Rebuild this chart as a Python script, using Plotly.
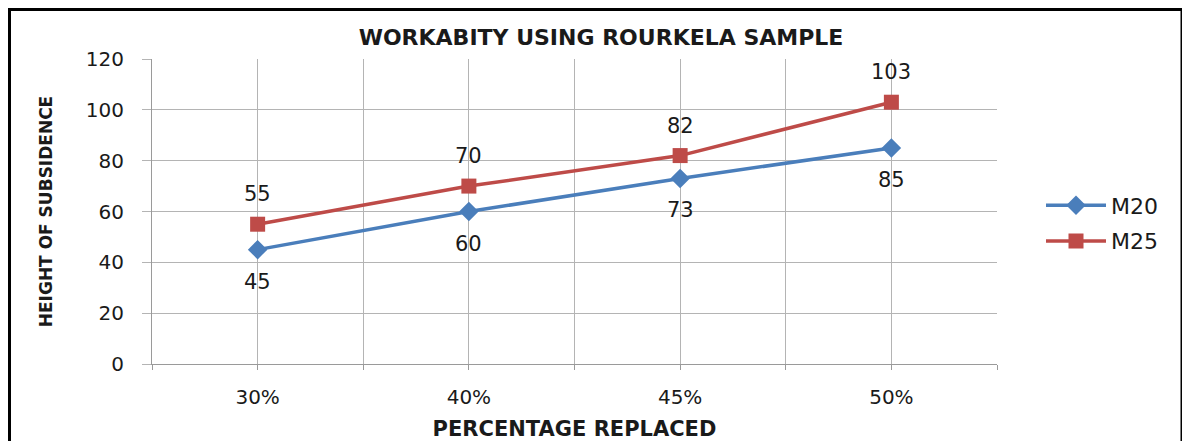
import plotly.graph_objects as go

# ---- data ----
categories = ["30%", "40%", "45%", "50%"]
m20 = [45, 60, 73, 85]
m25 = [55, 70, 82, 103]
y_ticks = [0, 20, 40, 60, 80, 100, 120]

BLUE = "#4A7EBB"
RED = "#BE4B48"
GRID = "#B4B4B4"
AXIS = "#9A9A9A"
TXT = "#1A1A1A"
FONT = "DejaVu Sans"

# page is rendered with an 8px body margin -> work in figure coordinates
W, H = 1182, 433
L, T = 144, 51
R = W - 989
B = H - 356
PW = W - L - R
PH = H - T - B

x = list(range(len(categories)))
bounds = [i - 0.5 for i in range(len(categories) + 1)]

fig = go.Figure()
fig.add_trace(go.Scatter(
    x=x, y=m20, mode="lines+markers", name="M20", legendgroup="a",
    line=dict(color=BLUE, width=3.5),
    marker=dict(symbol="diamond", size=15, color=BLUE),
))
fig.add_trace(go.Scatter(
    x=x, y=m25, mode="lines+markers", name="M25", legendgroup="b",
    line=dict(color=RED, width=3.5),
    marker=dict(symbol="square", size=15, color=RED),
))

annotations = []
for xi, v in zip(x, m20):
    annotations.append(dict(x=xi, y=v, text=str(v), showarrow=False, yshift=-32,
                            font=dict(family=FONT, size=21, color=TXT)))
for xi, v in zip(x, m25):
    annotations.append(dict(x=xi, y=v, text=str(v), showarrow=False, yshift=30,
                            font=dict(family=FONT, size=21, color=TXT)))

fig.update_layout(
    width=W, height=H,
    margin=dict(l=L, r=R, t=T, b=B, autoexpand=False),
    paper_bgcolor="white", plot_bgcolor="white",
    title=dict(text="<b>WORKABITY USING ROURKELA SAMPLE</b>",
               x=593 / W, xanchor="center", y=1 - 29 / H, yanchor="middle",
               yref="container", font=dict(family=FONT, size=22, color=TXT)),
    xaxis=dict(
        range=[bounds[0], bounds[-1]], tickmode="array", tickvals=x, ticktext=categories,
        showgrid=True, gridcolor=GRID, gridwidth=1, automargin=False,
        ticks="outside", ticklen=5, tickcolor=AXIS,
        minor=dict(tickmode="array", tickvals=bounds, showgrid=True, gridcolor=GRID,
                   ticks="outside", ticklen=5, tickcolor=AXIS),
        showline=True, linecolor=AXIS, linewidth=1, zeroline=False,
        tickfont=dict(family=FONT, size=20, color=TXT), ticklabelstandoff=10,
        title=dict(text="<b>PERCENTAGE REPLACED</b>", standoff=18,
                   font=dict(family=FONT, size=21, color=TXT)),
    ),
    yaxis=dict(
        range=[0, 120], tickmode="array", tickvals=y_ticks,
        showgrid=True, gridcolor=GRID, gridwidth=1, automargin=False,
        ticks="outside", ticklen=9, tickcolor=GRID,
        showline=True, linecolor=AXIS, linewidth=1, zeroline=False,
        tickfont=dict(family=FONT, size=20, color=TXT), ticklabelstandoff=14,
        title=dict(text="<b>HEIGHT OF SUBSIDENCE</b>", standoff=28,
                   font=dict(family=FONT, size=17, color=TXT)),
    ),
    legend=dict(x=(1033 - L) / PW, xanchor="left", y=(356 - 215.5) / PH, yanchor="middle",
                font=dict(family=FONT, size=22, color=TXT), tracegroupgap=4,
                itemwidth=60, bgcolor="rgba(0,0,0,0)"),
    annotations=annotations,
    shapes=[dict(type="rect", xref="paper", yref="paper",
                 x0=(1.5 - L) / PW, x1=(1174 - L) / PW,
                 y0=(356 - 460) / PH, y1=(356 - 1.5) / PH,
                 line=dict(color="black", width=3), fillcolor="rgba(0,0,0,0)", layer="below")],
)

fig.write_html("out.html")
